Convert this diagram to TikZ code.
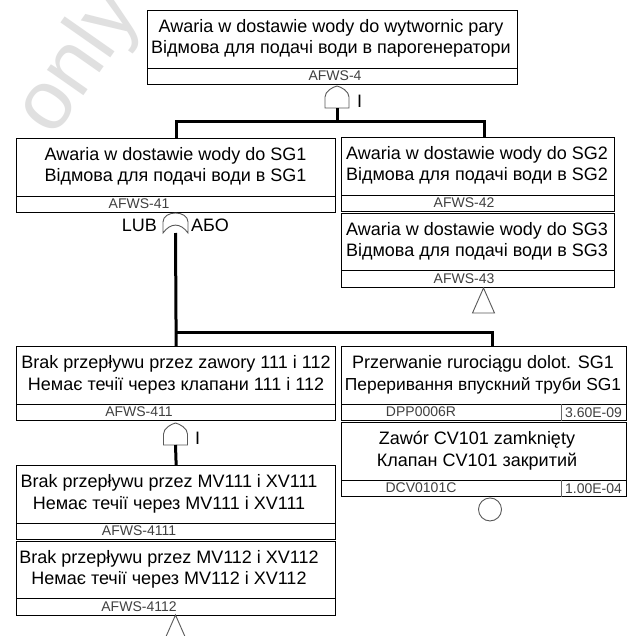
\documentclass[tikz,border=0pt]{standalone}
\usepackage{fontspec}
\setmainfont{Liberation Sans}
\tikzset{
  boxframe/.style={draw=black, line width=1.3pt, fill=white, inner sep=0pt, anchor=north west, minimum height=74pt},
  divline/.style={draw=black, line width=0.8pt},
  probline/.style={draw=black!60, line width=0.8pt},
  maintxt/.style={font=\fontsize{18}{21}\selectfont, inner sep=0pt, anchor=base, text=black},
  idtxt/.style={font=\fontsize{14}{16}\selectfont, inner sep=0pt, anchor=base, text=black!75},
  conn/.style={draw=black, line width=3pt},
  gatesym/.style={draw=black!65, line width=0.9pt, fill=white},
  gatelbl/.style={font=\fontsize{18}{21}\selectfont, inner sep=0pt},
  andgate/.pic={
    \path[gatesym] (-12,0) -- (-12,-11) .. controls (-12,-17) and (-4,-21) .. (0,-22)
      .. controls (4,-21) and (12,-17) .. (12,-11) -- (12,0) -- cycle;
    \coordinate (-out) at (0,0);
  },
  orgate/.pic={
    \path[gatesym] (-12.5,0) -- (-12.5,-11) .. controls (-12.5,-17) and (-6,-20) .. (0,-20)
      .. controls (6,-20) and (12.5,-17) .. (12.5,-11) -- (12.5,0)
      .. controls (5,-10.5) and (-5,-10.5) .. (-12.5,0) -- cycle;
    \coordinate (-out) at (0,0);
  },
  transfer/.pic={
    \path[gatesym] (0,0) -- (11,25) -- (-11,25) -- cycle;
  },
}
% #1 name, #2 x1, #3 x2, #4 top, #5 text centre x, #6 line 1, #7 line 2, #8 id, #9 id x
\newcommand\evbox[9]{%
  \pgfmathsetmacro\evboxw{#3-#2}%
  \node[boxframe, minimum width=\evboxw pt] (#1) at (#2,#4) {};
  \draw[divline] ([yshift=17pt]#1.south west) -- ([yshift=17pt]#1.south east);
  \node[maintxt] (#1-a) at (#5,#4+22.5) {#6};
  \node[maintxt] (#1-b) at (#5,#4+44) {#7};
  \node[idtxt] (#1-id) at (#9,#4+70.5) {#8};
}
\newcommand\evprob[2]{% #1 box name, #2 probability
  \draw[probline] ([yshift=17pt]#1.south west -| 561,0) -- (#1.south west -| 561,0);
  \node[idtxt] (#1-p) at ([yshift=3.5pt]#1.south west -| 593.5,0) {#2};
}
\begin{document}
\begin{tikzpicture}[x=1pt, y=-1pt]
  \useasboundingbox (0,0) rectangle (630,636);
  \clip (0,0) rectangle (630,636);
  \fill[white] (0,0) rectangle (630,636);

  % watermark
  \node[font=\fontsize{84}{84}\selectfont, text=black!12, rotate=55, inner sep=0pt] (wm) at (80,63) {only};

  % boxes
  \evbox{top}{147}{517}{10}{331}{Awaria w dostawie wody do wytwornic pary}{Відмова для подачі води в парогенератори}{AFWS-4}{335}
  \evbox{sga}{16}{335}{138}{175.5}{Awaria w dostawie wody do SG1}{Відмова для подачі води в SG1}{AFWS-41}{139}
  \evbox{sgb}{341}{614}{137}{477}{Awaria w dostawie wody do SG2}{Відмова для подачі води в SG2}{AFWS-42}{464}
  \evbox{sgc}{341}{614}{212.5}{477}{Awaria w dostawie wody do SG3}{Відмова для подачі води в SG3}{AFWS-43}{464}
  \evbox{bza}{16}{335}{346}{176}{Brak przepływu przez zawory 111 i 112}{Немає течії через клапани 111 і 112}{AFWS-411}{139}
  \evbox{bmv}{16}{335}{465}{169}{Brak przepływu przez MV111 i XV111}{Немає течії через MV111 і XV111}{AFWS-4111}{139}
  \evbox{bmw}{16}{335}{540.5}{169}{Brak przepływu przez MV112 i XV112}{Немає течії через MV112 і XV112}{AFWS-4112}{139}
  \evbox{prz}{341}{626}{346}{483}{Przerwanie rurociągu dolot. SG1}{{\fontsize{17.4}{21}\selectfont Переривання впускний труби SG1}}{DPP0006R}{421}
  \evprob{prz}{3.60E-09}
  \evbox{zaw}{341}{626}{422}{477}{Zawór CV101 zamknięty}{Клапан CV101 закритий}{DCV0101C}{421}
  \evprob{zaw}{1.00E-04}

  % gates and symbols
  \pic (ga) at (337,108) {andgate};
  \pic (go) at (175.5,233) {orgate};
  \pic (gb) at (175.5,445) {andgate};
  \pic (tra) at (483.5,288) {transfer};
  \pic (trb) at (175.5,615) {transfer};
  \node[circle, gatesym, minimum size=23pt, inner sep=0pt, anchor=north] (basic) at (490,497.5) {};

  % gate labels
  \node[gatelbl, anchor=base west] (la) at (357,108) {I};
  \node[gatelbl, anchor=base east] (lor1) at (157,231) {LUB};
  \node[gatelbl, anchor=base west] (lor2) at (191,231) {АБО};
  \node[gatelbl, anchor=base west] (lb) at (195,444) {I};

  % connectors
  \coordinate (ja) at (337,122);
  \draw[conn] (ga-out) -- (ja);
  \draw[conn] (sga.north) |- (ja) -| ([xshift=6.5pt]sgb.north);
  \coordinate (jb) at (175.5,332);
  \draw[conn] (go-out) -- (bza.north);
  \draw[conn] (jb) -| ([xshift=8.5pt]prz.north);
  \draw[conn] (gb-out) -- (bmv.north);
\end{tikzpicture}
\end{document}
